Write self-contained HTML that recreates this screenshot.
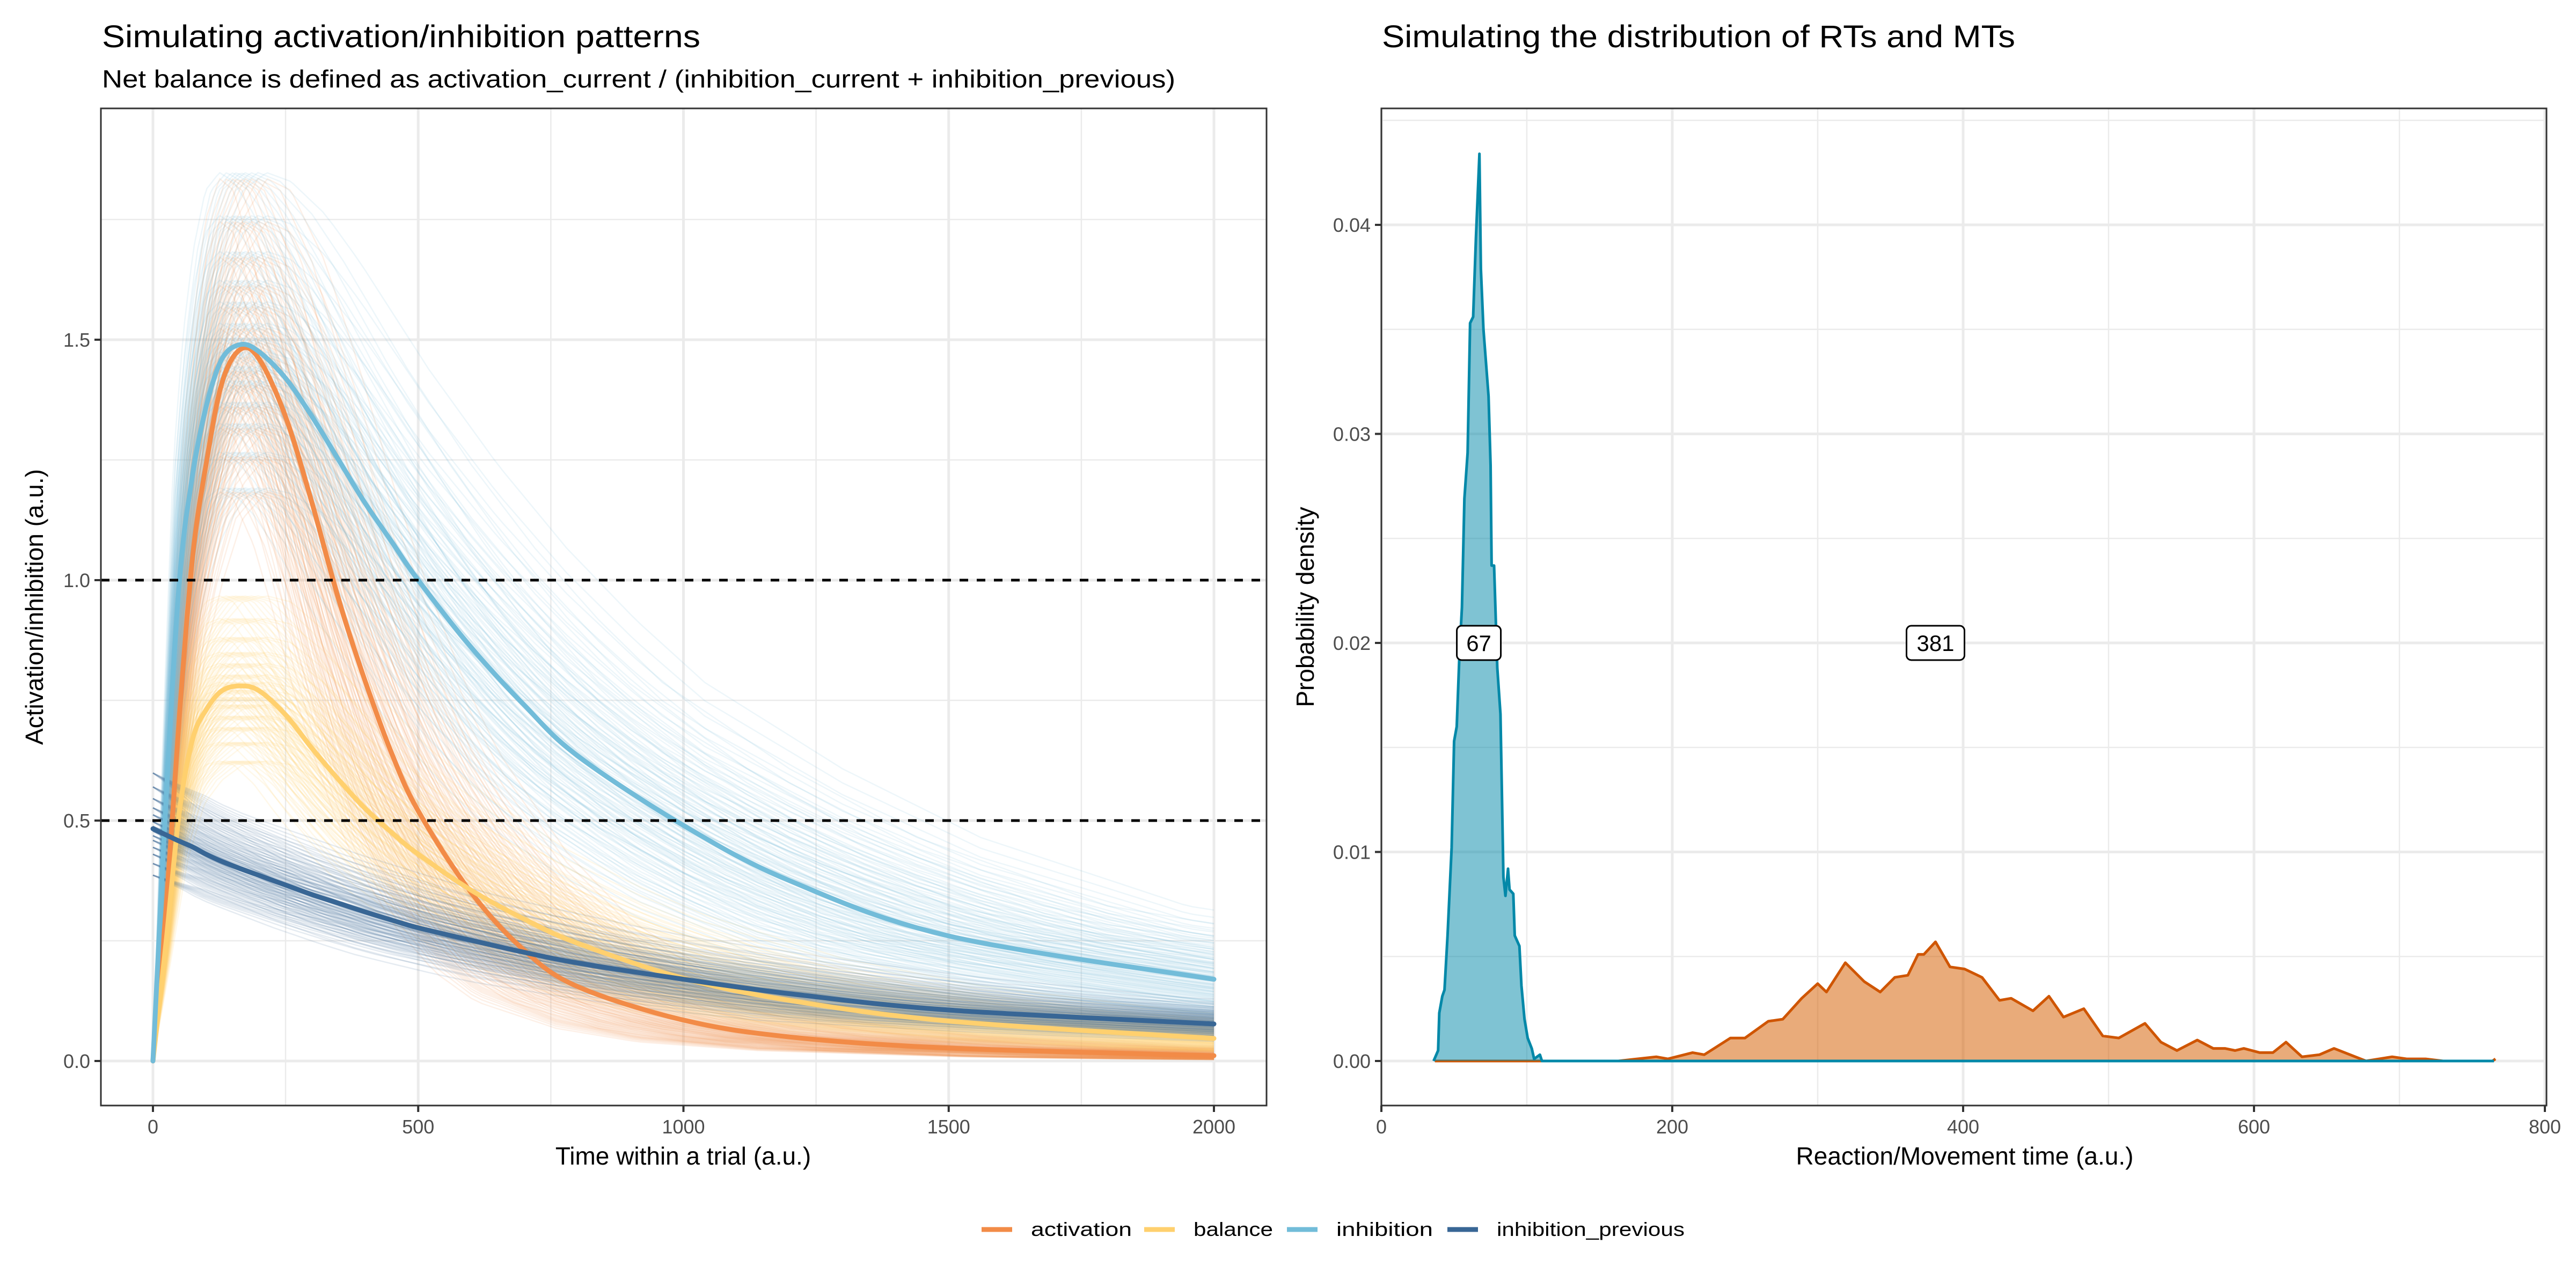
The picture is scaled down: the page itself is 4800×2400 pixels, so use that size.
<!DOCTYPE html>
<html><head><meta charset="utf-8"><style>
html,body{margin:0;padding:0;background:#fff;}
svg{display:block;font-family:"Liberation Sans",sans-serif;}
</style></head><body>
<svg id="chart" width="4800" height="2400" viewBox="0 0 4800 2400" xmlns="http://www.w3.org/2000/svg">
<rect width="4800" height="2400" fill="#fff"/>
<text x="190" y="88" font-size="58" textLength="1115" lengthAdjust="spacingAndGlyphs" fill="#000">Simulating activation/inhibition patterns</text>
<text x="190" y="163" font-size="46" textLength="2000" lengthAdjust="spacingAndGlyphs" fill="#000">Net balance is defined as activation_current / (inhibition_current + inhibition_previous)</text>
<text x="2575" y="88" font-size="58" textLength="1180" lengthAdjust="spacingAndGlyphs" fill="#000">Simulating the distribution of RTs and MTs</text>
<g id="left"></g>
<g id="right"></g>
<g id="legend"></g>
</svg>
<script>
// ---------- Left chart data ----------
const times = [0,25,50,75,100,130,165,200,250,300,350,400,450,500,600,700,800,1000,1200,1500,2000];
const activation = [0,0.32,0.72,1.05,1.24,1.41,1.48,1.46,1.34,1.16,0.96,0.79,0.64,0.52,0.35,0.23,0.155,0.085,0.05,0.027,0.011];
const balance = [0,0.25,0.52,0.67,0.73,0.77,0.78,0.77,0.72,0.65,0.585,0.525,0.475,0.43,0.355,0.295,0.245,0.172,0.126,0.083,0.047];
const inhibition = [0,0.55,1.0,1.22,1.36,1.46,1.49,1.475,1.42,1.34,1.25,1.16,1.08,1.0,0.86,0.74,0.635,0.49,0.375,0.26,0.17];
const inhibitionPrevious = [0.483,0.47,0.457,0.445,0.43,0.415,0.4,0.386,0.366,0.346,0.328,0.31,0.293,0.277,0.251,0.226,0.204,0.17,0.14,0.106,0.077];
const ampFactors = [0.8,0.85,0.89,0.92,0.95,0.97,0.99,1.01,1.03,1.06,1.09,1.13,1.18,1.24];
const stretchFactors = [0.76,0.84,0.9,0.95,1.0,1.05,1.12,1.2,1.3];
const xTicksLeft = [0,500,1000,1500,2000];
const yTicksLeft = [0.0,0.5,1.0,1.5];
const yTickLabelsLeft = ["0.0","0.5","1.0","1.5"];
const hLines = [0.5,1.0];
// ---------- Right chart data ----------
const rtX = [35.9,39,39.8,41.9,43.4,45.5,48.3,50,51.8,53.7,55.4,57.1,59.3,61,63.1,65,67.4,68.4,70.2,73.7,75.1,75.8,77.5,79.7,81.9,83.9,85.3,87.1,88.1,90.7,91.7,94.9,96.3,98.4,100.6,103.4,105,109,110.4,200,400,600,765];
const rtY = [0,0.0005,0.0023,0.0031,0.0034,0.006,0.0102,0.0153,0.016,0.0195,0.0217,0.0269,0.0291,0.0353,0.0356,0.0394,0.0434,0.0379,0.035,0.0318,0.0285,0.0237,0.0237,0.0188,0.0166,0.0088,0.0079,0.0092,0.0082,0.008,0.006,0.0055,0.0036,0.002,0.0011,0.0006,0.0001,0.0003,0,0,0,0,0];
const mtX = [36.8,100,163,189,197,214,222,240,250,266,276,289,300,306,319,332,343,353,362,369,373,381,391,401,413,425,433,448,459,469,483,496,507,525,536,547,561,572,580,587,593,604,613,622,633,645,655,677,695,705,718,730,764,766];
const mtY = [0,0,0,0.0002,0.0001,0.0004,0.0003,0.0011,0.0011,0.0019,0.002,0.003,0.0037,0.0033,0.0047,0.0038,0.0033,0.004,0.0041,0.0051,0.0051,0.0057,0.0045,0.0044,0.004,0.0029,0.003,0.0024,0.0031,0.0021,0.0025,0.0012,0.0011,0.0018,0.0009,0.0005,0.001,0.0006,0.0006,0.0005,0.0006,0.0004,0.0004,0.0009,0.0002,0.0003,0.0006,0,0.0002,0.0001,0.0001,0,0,0.0001];
const medianLabels = ["67","381"];
const medianX = [67,381];
const medianY = [0.02,0.02];
const xTicksRight = [0,200,400,600,800];
const yTicksRight = [0,0.01,0.02,0.03,0.04];
const yTickLabelsRight = ["0.00","0.01","0.02","0.03","0.04"];

const NS = "http://www.w3.org/2000/svg";
function mk(parent, tag, attrs, text){
  const e = document.createElementNS(NS, tag);
  for (const k in attrs) e.setAttribute(k, attrs[k]);
  if (text !== undefined) e.textContent = text;
  parent.appendChild(e);
  return e;
}
const L = {x0:188, x1:2360, y0:202, y1:2060};
const lx = t => 285 + t * (2262-285)/2000;
const ly = v => 1977 - v * 896;
const R = {x0:2574, x1:4745, y0:202, y1:2060};
const rx = v => 2574 + v * (4742-2574)/800;
const ry = v => 1977 - v * 38950;

const left = document.getElementById('left');
const right = document.getElementById('right');
const legend = document.getElementById('legend');

function grid(g, P, xs, ys, major, sxf, syf){
  xs.forEach(v=>{ const l=mk(g,'line',{x1:sxf(v),x2:sxf(v),y1:P.y0,y2:P.y1,stroke:'#ebebeb','stroke-width':major?5:2.5});
    
     });
  ys.forEach(v=>{ const l=mk(g,'line',{x1:P.x0,x2:P.x1,y1:syf(v),y2:syf(v),stroke:'#ebebeb','stroke-width':major?5:2.5});
    
     });
}
grid(left, L, [250,750,1250,1750], [0.25,0.75,1.25,1.75], false, lx, ly);
grid(left, L, xTicksLeft, yTicksLeft, true, lx, ly);

function interp(arr, t){
  if (t <= times[0]) return arr[0];
  const n = times.length;
  if (t >= times[n-1]) { const r = arr[n-1]/Math.max(arr[n-2],1e-6); const steps=(t-times[n-1])/500; return arr[n-1]*Math.pow(r,steps); }
  for (let i=1;i<n;i++){ if (t<=times[i]){ const f=(t-times[i-1])/(times[i]-times[i-1]); return arr[i-1]+f*(arr[i]-arr[i-1]); } }
}
const seriesList = [
  {name:'activation', arr:activation, color:'#f28b47', op:0.13},
  {name:'balance', arr:balance, color:'#ffd06e', op:0.15},
  {name:'inhibition', arr:inhibition, color:'#72bcd9', op:0.13},
  {name:'inhibition-previous', arr:inhibitionPrevious, color:'#386695', op:0.13}
];
const sampleT = [];
for (let t=0;t<=2000;t+= (t<300?6:20)) sampleT.push(t);
const spag = mk(left,'g',{});


seriesList.forEach(s=>{
  const g = mk(spag,'g',{fill:'none',stroke:s.color,'stroke-width':2.5,'stroke-opacity':s.op});
  
  
  ampFactors.forEach(a=>{ stretchFactors.forEach(st=>{
    const d = sampleT.map((t,i)=>(i?'L':'M')+lx(t).toFixed(1)+','+ly(a*interp(s.arr,t/st)).toFixed(1)).join('');
    const p = mk(g,'path',{d:d});
    
    
  });});
});
function smoothPath(xs, ys){
  const pts = xs.map((x,i)=>[x,ys[i]]);
  let d = 'M'+pts[0][0].toFixed(1)+','+pts[0][1].toFixed(1);
  for (let i=0;i<pts.length-1;i++){
    const p0=pts[Math.max(i-1,0)], p1=pts[i], p2=pts[i+1], p3=pts[Math.min(i+2,pts.length-1)];
    const c1=[p1[0]+(p2[0]-p0[0])/6, p1[1]+(p2[1]-p0[1])/6];
    const c2=[p2[0]-(p3[0]-p1[0])/6, p2[1]-(p3[1]-p1[1])/6];
    d += 'C'+c1[0].toFixed(1)+','+c1[1].toFixed(1)+' '+c2[0].toFixed(1)+','+c2[1].toFixed(1)+' '+p2[0].toFixed(1)+','+p2[1].toFixed(1);
  }
  return d;
}
seriesList.forEach(s=>{
  const p = mk(left,'path',{d:smoothPath(times.map(lx), s.arr.map(ly)),fill:'none',stroke:s.color,'stroke-width':9,'stroke-linejoin':'round','stroke-linecap':'round'});
  
  
});
hLines.forEach(v=>{
  const l = mk(left,'line',{x1:L.x0,x2:L.x1,y1:ly(v),y2:ly(v),stroke:'#000','stroke-width':5,'stroke-dasharray':'16 16'});
  
  
});
function frameAndAxes(g, P, xt, xl, yt, yl, sxf, syf){
  const f = mk(g,'rect',{x:P.x0,y:P.y0,width:P.x1-P.x0,height:P.y1-P.y0,fill:'none',stroke:'#333','stroke-width':3});
  
  
  xt.forEach((v,i)=>{
    const t = mk(g,'line',{x1:sxf(v),x2:sxf(v),y1:P.y1,y2:P.y1+12,stroke:'#333','stroke-width':4});
    
    
    const lb = mk(g,'text',{x:sxf(v),y:P.y1+52,'font-size':36,fill:'#4d4d4d','text-anchor':'middle'}, xl[i]);
    
    
  });
  yt.forEach((v,i)=>{
    const t = mk(g,'line',{x1:P.x0-12,x2:P.x0,y1:syf(v),y2:syf(v),stroke:'#333','stroke-width':4});
    
    
    const lb = mk(g,'text',{x:P.x0-20,y:syf(v)+13,'font-size':36,fill:'#4d4d4d','text-anchor':'end'}, yl[i]);
    
    
  });
}
frameAndAxes(left, L, xTicksLeft, xTicksLeft.map(String), yTicksLeft, yTickLabelsLeft, lx, ly);
let t1 = mk(left,'text',{x:1273,y:2170,'font-size':46,'text-anchor':'middle',fill:'#000'},'Time within a trial (a.u.)');


let t2 = mk(left,'text',{x:0,y:0,'font-size':46,'text-anchor':'middle',fill:'#000',transform:'translate(80,1131) rotate(-90)'},'Activation/inhibition (a.u.)');



grid(right, R, [100,300,500,700], [0.005,0.015,0.025,0.035,0.045], false, rx, ry);
grid(right, R, xTicksRight, yTicksRight, true, rx, ry);
function density(xs, ys, fill, stroke, name){
  const top = xs.map((x,i)=>(i?'L':'M')+rx(x).toFixed(1)+','+ry(ys[i]).toFixed(1)).join('');
  const area = top + 'L'+rx(xs[xs.length-1]).toFixed(1)+','+ry(0)+'L'+rx(xs[0]).toFixed(1)+','+ry(0)+'Z';
  const a = mk(right,'path',{d:area,fill:fill,stroke:'none'});
  
  
  const l = mk(right,'path',{d:top,fill:'none',stroke:stroke,'stroke-width':5,'stroke-linejoin':'round'});
  
  
}
density(mtX, mtY, 'rgba(213,94,0,0.52)', '#cf5500', 'movement-time');
density(rtX, rtY, 'rgba(0,135,168,0.5)', '#0388a8', 'reaction-time');
medianLabels.forEach((lab,i)=>{
  const w = lab.length*26+30;
  const g = mk(right,'g',{});
  
  
  mk(g,'rect',{x:rx(medianX[i])-w/2,y:ry(medianY[i])-32,width:w,height:64,rx:9,fill:'#fff',stroke:'#000','stroke-width':3});
  mk(g,'text',{x:rx(medianX[i]),y:ry(medianY[i])+15,'font-size':42,'text-anchor':'middle',fill:'#000'},lab);
});
frameAndAxes(right, R, xTicksRight, xTicksRight.map(String), yTicksRight, yTickLabelsRight, rx, ry);
let t3 = mk(right,'text',{x:3661,y:2170,'font-size':46,'text-anchor':'middle',fill:'#000'},'Reaction/Movement time (a.u.)');


let t4 = mk(right,'text',{x:0,y:0,'font-size':46,'text-anchor':'middle',fill:'#000',transform:'translate(2448,1131) rotate(-90)'},'Probability density');



const legLabels = ['activation','balance','inhibition','inhibition_previous'];
const legKeyX = [1829,2132,2398,2697];
const legTextW = [188,148,180,350];
legLabels.forEach((lab,i)=>{
  const g = mk(legend,'g',{});
  
  
  mk(g,'line',{x1:legKeyX[i],x2:legKeyX[i]+57,y1:2291,y2:2291,stroke:seriesList[i].color,'stroke-width':9});
  mk(g,'text',{x:legKeyX[i]+92,y:2303,'font-size':36,fill:'#000',textLength:legTextW[i],lengthAdjust:'spacingAndGlyphs'},lab);
});
</script>
</body></html>
